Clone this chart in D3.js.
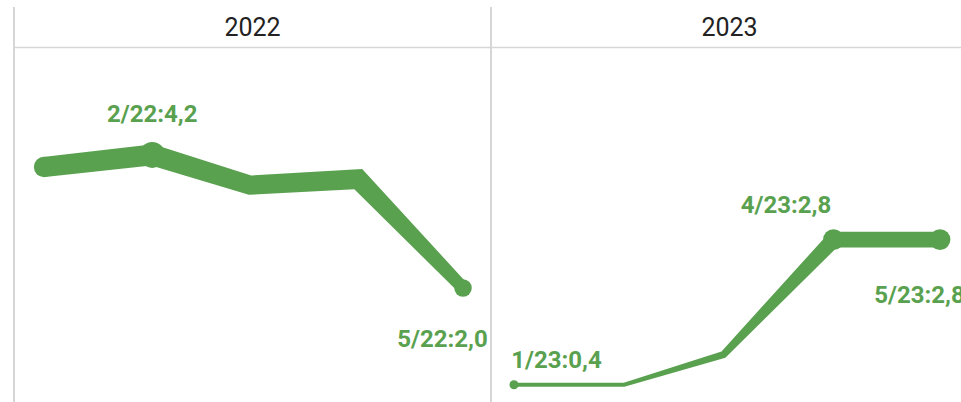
<!DOCTYPE html>
<html lang="en">
<head>
  <meta charset="UTF-8"/>
  <title>Monthly values 2022 / 2023</title>
  <script src="https://d3js.org/d3.v7.min.js"></script>
  <style>
    body { margin: 0; background: #fff; }
    text { font-family: Roboto, 'Noto Sans', sans-serif; }
  </style>
</head>
<body>
<svg id="chart" width="961" height="402"></svg>
<script>
// data
const years = [2022, 2023];
const months = [1, 2, 3, 4, 5];
const values2022 = [4.0, 4.2, 3.7, 3.8, 2.0];
const values2023 = [0.4, 0.4, 0.9, 2.8, 2.8];
const labelled2022 = [1, 4];   // indexes of points that carry a label
const labelled2023 = [0, 3, 4];

const series = [
  { year: years[0], values: values2022, labelled: labelled2022 },
  { year: years[1], values: values2023, labelled: labelled2023 },
];

// layout
const green = '#59a14f';
const gridColor = '#d6d6d6';
const panelLeft = [14, 491];
const panelWidth = 477;
const panelTop = 7, headerBottom = 47.5;
const insets = [[30, 449], [23, 449]];
// label offsets from the point (dx, dy) keyed by year-index
const labelPlacement = {
  '2022-1': [0, -33],
  '2022-4': [-20.5, 59],
  '2023-0': [42.5, -17],
  '2023-3': [-47.5, -27],
  '2023-4': [-20.5, 63],
};

const svg = d3.select('#chart');

const y = d3.scaleLinear().domain([0, 5]).range([409, 106.5]);
const w = d3.scalePow().exponent(0.7)
  .domain([0, d3.max(values2022.concat(values2023))]).range([0, 21]);

// grid
svg.append('line')
  .attr('x1', panelLeft[0]).attr('x2', 961)
  .attr('y1', headerBottom).attr('y2', headerBottom)
  .attr('stroke', gridColor).attr('stroke-width', 1.5);

panelLeft.concat([panelLeft[1] + panelWidth]).forEach(x => {
  svg.append('line')
    .attr('x1', x).attr('x2', x)
    .attr('y1', panelTop).attr('y2', 402)
    .attr('stroke', gridColor).attr('stroke-width', 2);
});

function fmt(v) {
  return v.toFixed(1).replace('.', ',');
}

// polygon for a line whose width changes at every vertex (mitred joins)
function ribbon(pts) {
  const left = [], right = [];
  const n = pts.length;
  const norm = (a, b) => {
    const dx = b[0] - a[0], dy = b[1] - a[1];
    const l = Math.hypot(dx, dy);
    return [-dy / l, dx / l];
  };
  for (let i = 0; i < n; i++) {
    const p = pts[i];
    const h = p[2] / 2;
    let m, len;
    if (i === 0) { m = norm(pts[0], pts[1]); len = h; }
    else if (i === n - 1) { m = norm(pts[n - 2], pts[n - 1]); len = h; }
    else {
      const n1 = norm(pts[i - 1], p), n2 = norm(p, pts[i + 1]);
      const sx = n1[0] + n2[0], sy = n1[1] + n2[1];
      const sl = Math.hypot(sx, sy);
      m = [sx / sl, sy / sl];
      len = h / (m[0] * n1[0] + m[1] * n1[1]);
    }
    left.push([p[0] + m[0] * len, p[1] + m[1] * len]);
    right.push([p[0] - m[0] * len, p[1] - m[1] * len]);
  }
  return left.concat(right.reverse());
}

series.forEach((s, pi) => {
  const x0 = panelLeft[pi];
  const x = d3.scaleTime()
    .domain([new Date(s.year, 0, 1), new Date(s.year, 4, 1)])
    .range([x0 + insets[pi][0], x0 + insets[pi][1]]);

  svg.append('text')
    .attr('x', x0 + panelWidth / 2)
    .attr('y', 36)
    .attr('text-anchor', 'middle')
    .attr('font-size', 25)
    .attr('fill', '#222')
    .text(s.year);

  const pts = s.values.map((v, i) => [x(new Date(s.year, months[i] - 1, 1)), y(v), w(v), v, i]);

  svg.append('path')
    .attr('d', d3.line().curve(d3.curveLinearClosed)(ribbon(pts)))
    .attr('fill', green);

  // round caps at both ends
  [pts[0], pts[pts.length - 1]].forEach(p => {
    svg.append('circle')
      .attr('cx', p[0]).attr('cy', p[1]).attr('r', p[2] / 2)
      .attr('fill', green);
  });

  s.labelled.forEach(i => {
    const p = pts[i];
    svg.append('circle')
      .attr('cx', p[0]).attr('cy', p[1]).attr('r', p[2] / 2 + 2.5)
      .attr('fill', green);
    const off = labelPlacement[s.year + '-' + i];
    svg.append('text')
      .attr('x', p[0] + off[0])
      .attr('y', p[1] + off[1])
      .attr('text-anchor', 'middle')
      .attr('font-size', 24)
      .attr('font-weight', 'bold')
      .attr('fill', green)
      .text(`${months[i]}/${String(s.year).slice(2)}:${fmt(p[3])}`);
  });
});
</script>
</body>
</html>
